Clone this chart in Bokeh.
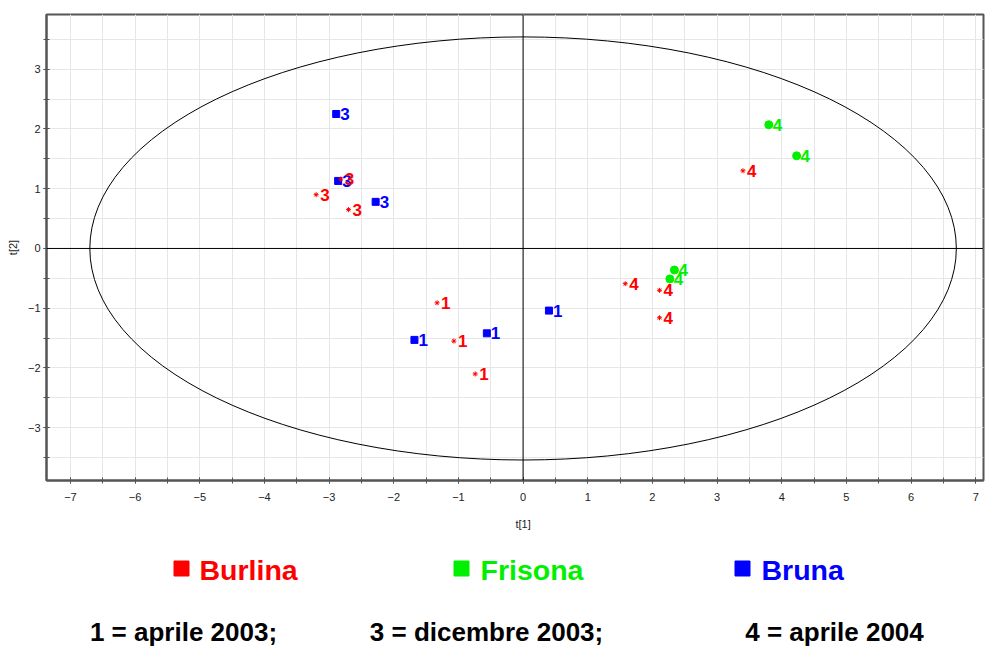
from bokeh.plotting import figure
from bokeh.layouts import column
from bokeh.models import Range1d, SingleIntervalTicker, Span, LabelSet, ColumnDataSource
from bokeh.embed import file_html
from bokeh.resources import INLINE
from bokeh.core.properties import value

# ---- data ----
burlina_x = [-2.82, -3.20, -2.70, -1.33, -1.07, -0.74, 1.58, 2.11, 2.11, 3.40]
burlina_y = [1.16, 0.90, 0.65, -0.91, -1.55, -2.10, -0.59, -0.70, -1.16, 1.30]
burlina_lab = ["3", "3", "3", "1", "1", "1", "4", "4", "4", "4"]

frisona_x = [3.80, 4.23, 2.34, 2.27]
frisona_y = [2.07, 1.55, -0.36, -0.51]
frisona_lab = ["4", "4", "4", "4"]

bruna_x = [-2.89, -2.86, -2.28, -1.68, -0.56, 0.40]
bruna_y = [2.25, 1.13, 0.78, -1.53, -1.42, -1.04]
bruna_lab = ["3", "3", "3", "1", "1", "1"]

ellipse_a = 6.70   # semi-axis along t[1]
ellipse_b = 3.54   # semi-axis along t[2]

groups = ["Burlina", "Frisona", "Bruna"]
key_texts = ["1 = aprile 2003;", "3 = dicembre 2003;", "4 = aprile 2004"]

RED = "#ff0000"
GREEN = "#00f000"
BLUE = "#0000ff"
FONT = "Liberation Sans"

W = 985
H1 = 515
H2 = 131
X0, X1 = -7.37, 7.12
Y0, Y1 = -3.883, 3.915
FL, FR, FT, FB = 46, 2, 14, 35   # frame borders

p = figure(width=W, height=H1, output_backend="svg", toolbar_location=None,
           x_range=Range1d(X0, X1), y_range=Range1d(Y0, Y1),
           min_border_left=FL, min_border_right=FR, min_border_top=FT,
           min_border_bottom=FB)
p.background_fill_color = "white"
p.border_fill_color = "white"
p.outline_line_color = "#555555"
p.outline_line_width = 2

for ax in (p.xaxis[0], p.yaxis[0]):
    ax.ticker = SingleIntervalTicker(interval=1, num_minor_ticks=2)
    ax.axis_line_color = "#555555"
    ax.axis_line_width = 2
    ax.major_tick_line_color = "#555555"
    ax.minor_tick_line_color = "#555555"
    ax.major_tick_in = 3
    ax.major_tick_out = 3
    ax.minor_tick_in = 3
    ax.minor_tick_out = 3
    ax.major_label_text_font = FONT
    ax.major_label_text_font_size = "11px"
    ax.major_label_text_color = "#222222"
    ax.axis_label_text_font = FONT
    ax.axis_label_text_font_size = "11px"
    ax.axis_label_text_font_style = "normal"
    ax.axis_label_text_color = "#222222"

p.xaxis.major_label_standoff = 9
p.yaxis.major_label_standoff = 3
p.yaxis.axis_label = "t[2]"
p.yaxis.axis_label_standoff = 6

for g in (p.xgrid[0], p.ygrid[0]):
    g.grid_line_color = "#e6e6e6"
    g.minor_grid_line_color = "#e6e6e6"
    g.grid_line_width = 1
    g.minor_grid_line_width = 1

p.add_layout(Span(location=0, dimension="height", line_color="black", line_width=1))
p.add_layout(Span(location=0, dimension="width", line_color="black", line_width=1))

p.ellipse(x=[0], y=[0], width=[2 * ellipse_a], height=[2 * ellipse_b],
          fill_color=None, line_color="black", line_width=1)

# markers
p.scatter(frisona_x, frisona_y, marker="circle", size=8, fill_color=GREEN, line_color=GREEN)
p.scatter(bruna_x, bruna_y, marker="square", size=7, fill_color=BLUE, line_color=BLUE)
p.scatter(burlina_x, burlina_y, marker="asterisk", size=5, line_color=RED, line_width=1)


def labelset(xs, ys, labs, color, dx):
    src = ColumnDataSource(dict(x=xs, y=ys, t=labs))
    return LabelSet(x="x", y="y", text="t", source=src, x_offset=dx, y_offset=0,
                    text_baseline="middle", text_align="left",
                    text_font=value(FONT), text_font_style="bold",
                    text_font_size="17px", text_color=color)


p.add_layout(labelset(bruna_x, bruna_y, bruna_lab, BLUE, 4))
p.add_layout(labelset(frisona_x, frisona_y, frisona_lab, GREEN, 4))
p.add_layout(labelset(burlina_x, burlina_y, burlina_lab, RED, 4))

# ---- lower panel: x-axis title, group legend and date key ----
# its x range is expressed in canvas pixels of the figure width
q = figure(width=W, height=H2, output_backend="svg", toolbar_location=None,
           x_range=Range1d(FL, W - FR), y_range=Range1d(H2, 0),
           x_axis_type=None, y_axis_type=None,
           min_border_left=FL, min_border_right=FR, min_border_top=0, min_border_bottom=0)
q.outline_line_color = None
q.background_fill_color = "white"
q.border_fill_color = "white"
q.grid.visible = False

# t[1] centred on t[1] = 0 of the upper plot
frame_w = W - FL - FR
x_zero = FL + (0 - X0) / (X1 - X0) * frame_w
q.text(x=[x_zero], y=[8], text=["t[1]"], text_align="center", text_baseline="middle",
       text_font=value(FONT), text_font_size="11px", text_color="#222222")

leg_sq_x = [181, 461, 742]
leg_tx_x = [199, 480, 761]
leg_y = 53
leg_cols = [RED, GREEN, BLUE]
q.scatter(leg_sq_x, [leg_y] * 3, marker="square", size=15, fill_color=leg_cols,
          line_color=leg_cols)
q.text(x=leg_tx_x, y=[leg_y + 1] * 3, text=groups, text_color=leg_cols,
       text_align="left", text_baseline="middle", text_font=value(FONT),
       text_font_size="28.5px", text_font_style="bold")

key_x = [183, 486, 834]
key_y = 116
q.text(x=key_x, y=[key_y] * 3, text=key_texts, text_color="black",
       text_align="center", text_baseline="middle", text_font=value(FONT),
       text_font_size="26px", text_font_style="bold")

layout = column(p, q, spacing=0)
open("out.html", "w").write(file_html(layout, INLINE))
